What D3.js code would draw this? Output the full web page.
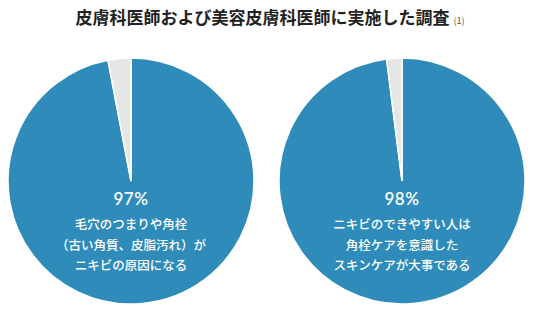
<!DOCTYPE html>
<html>
<head>
<meta charset="utf-8">
<script src="https://cdn.jsdelivr.net/npm/d3@7"></script>
<style>
  body { margin: 0; background: #fff; }
  text { font-family: "Noto Sans CJK JP", "Noto Sans", sans-serif; }
</style>
</head>
<body>
<script>
var width = 536;
var height = 322;

// survey results
var charts = ["left", "right"];
var agreeValues = [97, 98];
var otherValues = [3, 2];
var pctLabels = ["97%", "98%"];
var captions = [
  ["毛穴のつまりや角栓", "（古い角質、皮脂汚れ）が", "ニキビの原因になる"],
  ["ニキビのできやすい人は", "角栓ケアを意識した", "スキンケアが大事である"]
];
var centersX = [131, 402];

var svg = d3.select("body")
            .append("svg")
            .attr("width", width)
            .attr("height", height);

// title
var title = svg.append("text")
    .attr("x", 270)
    .attr("y", 24)
    .attr("text-anchor", "middle")
    .attr("fill", "#222")
    .style("font-size", "17px")
    .style("font-weight", "bold");
title.append("tspan").text("皮膚科医師および美容皮膚科医師に実施した調査");
title.append("tspan").attr("dx", 4).style("font-size", "9px").style("font-weight", "normal").attr("fill", "#555").text("(1)");

var radius = 123;
var pie = d3.pie().sort(null).startAngle(0).endAngle(2 * Math.PI);
var arc = d3.arc().innerRadius(0).outerRadius(radius);
var colors = ["#2f8cba", "#e5e6e6"];

charts.forEach(function(c, i) {
  var g = svg.append("g")
      .attr("transform", "translate(" + centersX[i] + ",181)");

  g.selectAll("path")
    .data(pie([agreeValues[i], otherValues[i]]))
    .enter()
    .append("path")
    .attr("d", arc)
    .attr("fill", function(d, j) { return colors[j]; })
    .attr("stroke", "#fff")
    .attr("stroke-width", 1.5);

  g.append("text")
    .attr("y", 24)
    .attr("text-anchor", "middle")
    .attr("fill", "#fff")
    .style("font-size", "17px")
    .style("font-weight", "600")
    .style("font-family", "Lato, 'Noto Sans', sans-serif")
    .style("letter-spacing", "0.5px")
    .text(pctLabels[i]);

  g.selectAll("text.cap")
    .data(captions[i])
    .enter()
    .append("text")
    .attr("class", "cap")
    .attr("y", function(d, j) { return 48 + j * 20.5; })
    .attr("text-anchor", "middle")
    .attr("fill", "#fff")
    .style("font-size", "12.5px")
    .style("font-weight", "500")
    .text(function(d) { return d; });
});
</script>
</body>
</html>
